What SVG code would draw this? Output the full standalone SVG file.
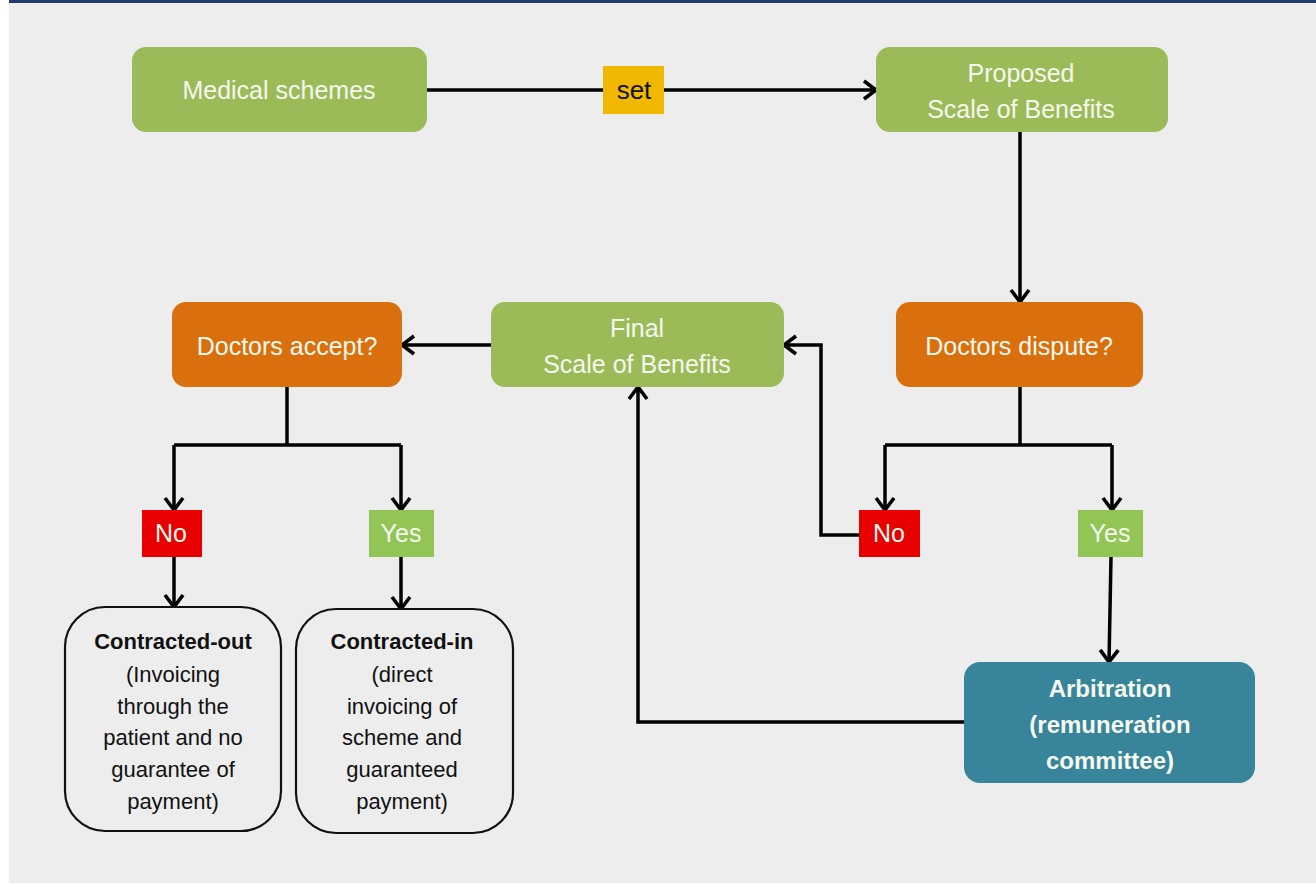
<svg xmlns="http://www.w3.org/2000/svg" width="1316" height="885" viewBox="0 0 1316 885">
  <defs>
    <marker id="arrow" viewBox="0 0 16 22" refX="14" refY="11" markerWidth="16" markerHeight="22" markerUnits="userSpaceOnUse" orient="auto">
      <path d="M2,2 L14,11 L2,20" fill="none" stroke="#000" stroke-width="3.6" stroke-linejoin="miter"/>
    </marker>
  </defs>
  <style>
    .box { stroke: none; }
    .green { fill: #9bbb59; }
    .orange { fill: #d9700d; }
    .teal { fill: #38849a; }
    .outline { fill: #ededed; stroke: #111; stroke-width: 2.2; }
    .lbl { font-family: "Liberation Sans", Arial, sans-serif; font-size: 25px; fill: #f4f8ee; text-anchor: middle; }
    .bold { font-weight: bold; }
    .dark { fill: #111; }
    .small { font-family: "Liberation Sans", Arial, sans-serif; font-size: 22px; fill: #111; text-anchor: middle; }
    .conn { fill: none; stroke: #000; stroke-width: 3.5; stroke-linejoin: miter; }
  </style>

  <!-- page background -->
  <rect x="0" y="0" width="1316" height="885" fill="#ffffff"/>
  <rect x="9" y="0" width="1307" height="883" fill="#ededed"/>
  <rect x="9" y="0" width="1307" height="3" fill="#1f3a6e"/>

  <!-- connectors -->
  <g id="connectors">
    <path class="conn" d="M427,90 H876" marker-end="url(#arrow)"/>
    <path class="conn" d="M1020,132 V302" marker-end="url(#arrow)"/>
    <path class="conn" d="M1020,387 V445"/>
    <path class="conn" d="M885,445 H1112"/>
    <path class="conn" d="M885,445 V510" marker-end="url(#arrow)"/>
    <path class="conn" d="M1112,445 V510" marker-end="url(#arrow)"/>
    <path class="conn" d="M859,535 H821 V345 H784" marker-end="url(#arrow)"/>
    <path class="conn" d="M1111,557 L1109,662" marker-end="url(#arrow)"/>
    <path class="conn" d="M964,722 H638 V387" marker-end="url(#arrow)"/>
    <path class="conn" d="M491,345 H402" marker-end="url(#arrow)"/>
    <path class="conn" d="M287,387 V445"/>
    <path class="conn" d="M174,445 H401"/>
    <path class="conn" d="M174,445 V510" marker-end="url(#arrow)"/>
    <path class="conn" d="M401,445 V510" marker-end="url(#arrow)"/>
    <path class="conn" d="M174,557 V607" marker-end="url(#arrow)"/>
    <path class="conn" d="M401,557 V609" marker-end="url(#arrow)"/>
  </g>

  <g id="medical-schemes">
    <rect class="box green" x="132" y="47" width="295" height="85" rx="14"/>
    <text class="lbl" x="279" y="99">Medical schemes</text>
  </g>

  <g id="set-label">
    <rect x="603" y="66" width="61" height="48" fill="#f0b800"/>
    <text class="lbl dark" x="634" y="99" style="font-size:26px">set</text>
  </g>

  <g id="proposed-scale">
    <rect class="box green" x="876" y="47" width="292" height="85" rx="14"/>
    <text class="lbl" x="1021" y="82">Proposed</text>
    <text class="lbl" x="1021" y="118">Scale of Benefits</text>
  </g>

  <g id="doctors-dispute">
    <rect class="box orange" x="896" y="302" width="247" height="85" rx="14"/>
    <text class="lbl" x="1019" y="355">Doctors dispute?</text>
  </g>

  <g id="final-scale">
    <rect class="box green" x="491" y="302" width="293" height="85" rx="14"/>
    <text class="lbl" x="637" y="337">Final</text>
    <text class="lbl" x="637" y="373">Scale of Benefits</text>
  </g>

  <g id="doctors-accept">
    <rect class="box orange" x="172" y="302" width="230" height="85" rx="14"/>
    <text class="lbl" x="287" y="355">Doctors accept?</text>
  </g>

  <g id="dispute-no">
    <rect x="859" y="510" width="61" height="47" fill="#e80000"/>
    <text class="lbl" x="889" y="542">No</text>
  </g>

  <g id="dispute-yes">
    <rect x="1078" y="510" width="65" height="47" fill="#92c556"/>
    <text class="lbl" x="1110" y="542">Yes</text>
  </g>

  <g id="accept-no">
    <rect x="142" y="510" width="60" height="47" fill="#e80000"/>
    <text class="lbl" x="171" y="542">No</text>
  </g>

  <g id="accept-yes">
    <rect x="369" y="510" width="65" height="47" fill="#92c556"/>
    <text class="lbl" x="401" y="542">Yes</text>
  </g>

  <g id="arbitration">
    <rect class="box teal" x="964" y="662" width="291" height="121" rx="16"/>
    <text class="lbl bold" x="1110" y="697" style="font-size:24px">Arbitration</text>
    <text class="lbl bold" x="1110" y="733" style="font-size:24px">(remuneration</text>
    <text class="lbl bold" x="1110" y="769" style="font-size:24px">committee)</text>
  </g>

  <g id="contracted-out">
    <rect class="outline" x="65" y="607" width="216" height="224" rx="40"/>
    <text class="small bold" x="173" y="649">Contracted-out</text>
    <text class="small" x="173" y="682">(Invoicing</text>
    <text class="small" x="173" y="714">through the</text>
    <text class="small" x="173" y="745">patient and no</text>
    <text class="small" x="173" y="777">guarantee of</text>
    <text class="small" x="173" y="809">payment)</text>
  </g>

  <g id="contracted-in">
    <rect class="outline" x="296" y="609" width="217" height="224" rx="40"/>
    <text class="small bold" x="402" y="649">Contracted-in</text>
    <text class="small" x="402" y="682">(direct</text>
    <text class="small" x="402" y="714">invoicing of</text>
    <text class="small" x="402" y="745">scheme and</text>
    <text class="small" x="402" y="777">guaranteed</text>
    <text class="small" x="402" y="809">payment)</text>
  </g>
</svg>
